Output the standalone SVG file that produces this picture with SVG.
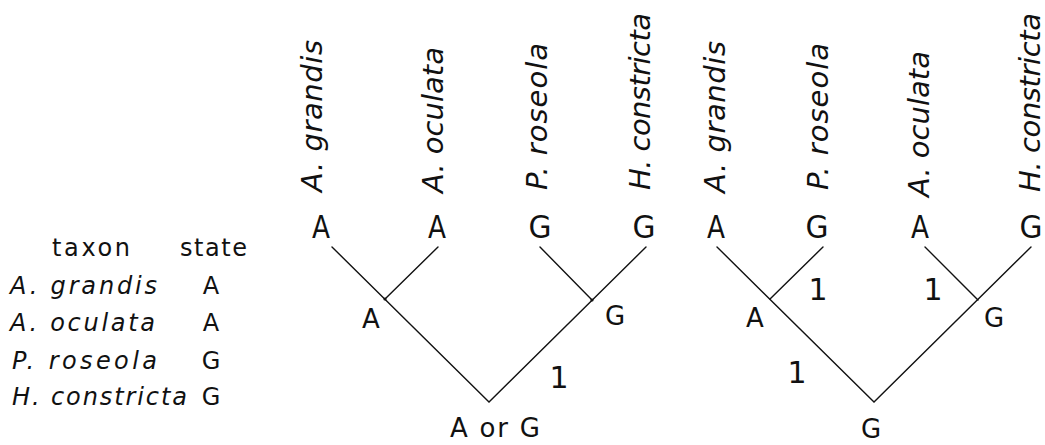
<svg xmlns="http://www.w3.org/2000/svg" width="1045" height="445" viewBox="0 0 1045 445">
<style>
text{font-family:"DejaVu Sans","Liberation Sans",sans-serif;fill:#111}
.tab{font-size:24px}
.it{font-style:italic}
.vert{font-size:29px;font-style:italic}
.tip{font-size:32px;text-anchor:middle}
.nd{font-size:26px;text-anchor:middle}
.one{font-size:30px;text-anchor:middle}
.br{stroke:#111;stroke-width:1.4;fill:none;stroke-linecap:round}
</style>
<rect width="1045" height="445" fill="#fff"/>
<g id="table">
<text class="tab" x="52" y="256" textLength="78" lengthAdjust="spacing">taxon</text>
<text class="tab" x="180" y="256" textLength="67" lengthAdjust="spacing">state</text>
<text class="tab it" x="10" y="294" textLength="147" lengthAdjust="spacing">A. grandis</text>
<text class="tab it" x="10" y="331" textLength="145" lengthAdjust="spacing">A. oculata</text>
<text class="tab it" x="12" y="369" textLength="145" lengthAdjust="spacing">P. roseola</text>
<text class="tab it" x="12" y="405" textLength="175" lengthAdjust="spacing">H. constricta</text>
<text class="tab" x="211" y="294" text-anchor="middle">A</text>
<text class="tab" x="211" y="331" text-anchor="middle">A</text>
<text class="tab" x="211" y="369" text-anchor="middle">G</text>
<text class="tab" x="211" y="405" text-anchor="middle">G</text>
</g>
<g id="connectors">
<path class="br" d="M332 247 L489 402 L646 247"/>
<path class="br" d="M438 247 L385 299"/>
<path class="br" d="M540 247 L592 300"/>
<path class="br" d="M717 247 L874 402 L1031 247"/>
<path class="br" d="M823 247 L770 299"/>
<path class="br" d="M925 247 L978 300"/>
<circle cx="385" cy="299" r="1.6" fill="#111"/>
<circle cx="592" cy="300" r="1.6" fill="#111"/>
</g>
<g id="tree1">
<g id="t1-grandis"><text class="vert" transform="translate(322,192) rotate(-90)" textLength="152" lengthAdjust="spacing">A. grandis</text><text class="tip" x="321" y="238" textLength="18" lengthAdjust="spacingAndGlyphs">A</text></g>
<g id="t1-oculata"><text class="vert" transform="translate(443,193) rotate(-90)" textLength="146" lengthAdjust="spacing">A. oculata</text><text class="tip" x="437" y="238" textLength="18" lengthAdjust="spacingAndGlyphs">A</text></g>
<g id="t1-roseola"><text class="vert" transform="translate(547,190) rotate(-90)" textLength="147" lengthAdjust="spacing">P. roseola</text><text class="tip" x="540" y="238" textLength="23" lengthAdjust="spacingAndGlyphs">G</text></g>
<g id="t1-constricta"><text class="vert" transform="translate(650,190) rotate(-90)" textLength="177" lengthAdjust="spacing">H. constricta</text><text class="tip" x="644" y="238" textLength="23" lengthAdjust="spacingAndGlyphs">G</text></g>
<g id="t1-nodeA"><text class="nd" x="371" y="328">A</text></g>
<g id="t1-nodeG"><text class="nd" x="615" y="325">G</text></g>
<g id="t1-root"><text class="nd" x="495" y="437" textLength="90" lengthAdjust="spacing">A or G</text></g>
<text class="one" x="559" y="388">1</text>
</g>
<g id="tree2">
<g id="t2-grandis"><text class="vert" transform="translate(725,193) rotate(-90)" textLength="152" lengthAdjust="spacing">A. grandis</text><text class="tip" x="716" y="238" textLength="18" lengthAdjust="spacingAndGlyphs">A</text></g>
<g id="t2-roseola"><text class="vert" transform="translate(828,190) rotate(-90)" textLength="147" lengthAdjust="spacing">P. roseola</text><text class="tip" x="817" y="238" textLength="23" lengthAdjust="spacingAndGlyphs">G</text></g>
<g id="t2-oculata"><text class="vert" transform="translate(929,197) rotate(-90)" textLength="146" lengthAdjust="spacing">A. oculata</text><text class="tip" x="920" y="238" textLength="18" lengthAdjust="spacingAndGlyphs">A</text></g>
<g id="t2-constricta"><text class="vert" transform="translate(1040,192) rotate(-90)" textLength="179" lengthAdjust="spacing">H. constricta</text><text class="tip" x="1031" y="238" textLength="23" lengthAdjust="spacingAndGlyphs">G</text></g>
<g id="t2-nodeA"><text class="nd" x="755" y="327">A</text></g>
<g id="t2-nodeG"><text class="nd" x="994" y="327">G</text></g>
<g id="t2-root"><text class="nd" x="871" y="438">G</text></g>
<text class="one" x="818" y="300">1</text>
<text class="one" x="933" y="300">1</text>
<text class="one" x="797" y="383">1</text>
</g>
</svg>
